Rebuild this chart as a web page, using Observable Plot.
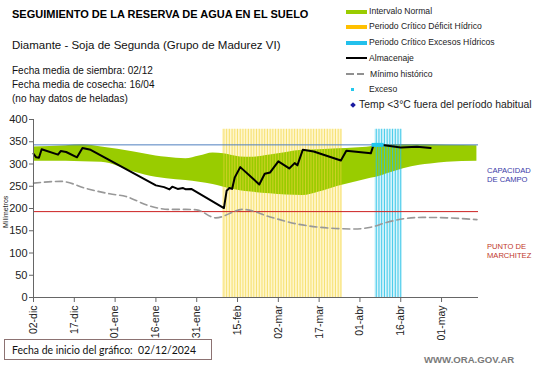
<!DOCTYPE html>
<html><head><meta charset="utf-8">
<script src="https://cdn.jsdelivr.net/npm/d3@7"></script>
<script src="https://cdn.jsdelivr.net/npm/@observablehq/plot@0.6"></script>
<style>
body{margin:0;background:#fff;}
#wrap{position:relative;width:541px;height:368px;font-family:"Liberation Sans",Arial,sans-serif;overflow:hidden;background:#fff;}
#wrap svg{position:absolute;left:0;top:0;}
.t{position:absolute;white-space:nowrap;line-height:1;}
.sw{position:absolute;}
</style></head><body><div id="wrap"></div>
<script>
// ---- Data ----
const almFechas = ["2024-12-02","2024-12-03","2024-12-04","2024-12-05","2024-12-11","2024-12-12","2024-12-14","2024-12-18","2024-12-20","2024-12-23",
  "2025-01-16","2025-01-19","2025-01-21","2025-01-22","2025-01-24","2025-01-26","2025-01-27","2025-01-29",
  "2025-02-10","2025-02-11","2025-02-12","2025-02-13","2025-02-14","2025-02-16","2025-02-23","2025-02-25","2025-02-27",
  "2025-03-02","2025-03-06","2025-03-08","2025-03-09","2025-03-11","2025-03-15","2025-03-25","2025-03-27",
  "2025-04-05","2025-04-06","2025-04-10","2025-04-16","2025-04-22","2025-04-27"];
const almValores = [323,315,314,333,321,329,327,315,336,332,
  252,248,243,249,244,246,243,244,
  201,240,246,244,270,293,254,278,281,
  306,290,302,297,332,328,308,330,
  324,343,342,337,339,336];

const minFechas = ["2024-12-02","2024-12-12","2024-12-22","2024-12-30","2025-01-05","2025-01-13","2025-01-21","2025-01-27","2025-01-31","2025-02-07","2025-02-17","2025-02-27","2025-03-09","2025-03-17","2025-03-30","2025-04-05","2025-04-11","2025-04-17","2025-04-24","2025-05-03","2025-05-14"];
const minValores = [257,261,244,233,227,207,198,198,197,179,198,181,165,158,154,158,169,177,180,179,175];

const bandaFechas = ["2024-12-02","2024-12-14","2024-12-20","2024-12-27","2025-01-08","2025-01-16","2025-01-20","2025-01-27","2025-02-01","2025-02-06","2025-02-10","2025-02-16","2025-02-20","2025-02-27","2025-03-11","2025-03-17","2025-03-24","2025-03-30","2025-04-05","2025-04-07","2025-04-11","2025-04-23","2025-04-27","2025-05-03","2025-05-14"];
const bandaSup = [338,341,343,338,327,318,315,312,318,325,323,316,315,320,331,332,334,336,339,343,343,343,343,342,341];
const bandaInf = [306,306,305,304,282,270,267,263,259,254,248,240,237,233,229,237,250,259,268,270,278,297,300,304,306];

const excesoFechas = ["2025-04-06","2025-04-07","2025-04-08","2025-04-09"];
const excesoValores = [343,343,343,343];

const periodoDeficit = ["2025-02-10","2025-03-25"];
const periodoExcesos = ["2025-04-07","2025-04-16"];
const alturaPeriodo = 378;

const capacidadCampo = 343;
const puntoMarchitez = 193;

const ticksFechas = ["2024-12-02","2024-12-17","2025-01-01","2025-01-16","2025-01-31","2025-02-15","2025-03-02","2025-03-17","2025-04-01","2025-04-16","2025-05-01"];
const ticksY = [0,50,100,150,200,250,300,350,400];
const meses = ["ene","feb","mar","abr","may","jun","jul","ago","sep","oct","nov","dic"];

// ---- Build ----
const P = d3.utcParse("%Y-%m-%d");
const alm = almFechas.map((f,i)=>({date:P(f), v:almValores[i]}));
const minimo = minFechas.map((f,i)=>({date:P(f), v:minValores[i]}));
const banda = bandaFechas.map((f,i)=>({date:P(f), hi:bandaSup[i], lo:bandaInf[i]}));
const exceso = excesoFechas.map((f,i)=>({date:P(f), v:excesoValores[i]}));
const diasDef = d3.utcDay.range(P(periodoDeficit[0]), d3.utcDay.offset(P(periodoDeficit[1]),1));
const diasExc = d3.utcDay.range(P(periodoExcesos[0]), d3.utcDay.offset(P(periodoExcesos[1]),1));
const half = 12*3600*1000;
const xStart = P("2024-12-02");
const xEnd = new Date(Date.UTC(2025,4,14,14));

const chart = Plot.plot({
  width: 541, height: 368,
  marginTop: 119, marginBottom: 71, marginLeft: 33, marginRight: 63,
  x: {type:"utc", domain:[xStart, xEnd]},
  y: {domain:[0,400]},
  style: {fontFamily:"'Liberation Sans', Arial, sans-serif", background:"transparent", color:"#222"},
  marks: [
    Plot.rect(diasDef, {x1:d=>new Date(+d-half), x2:d=>new Date(+d+half), y1:0, y2:alturaPeriodo, fill:"#fff6c8"}),
    Plot.rect(diasExc, {x1:d=>new Date(+d-half), x2:d=>new Date(+d+half), y1:0, y2:alturaPeriodo, fill:"#d4f3fb"}),
    Plot.areaY(banda, {x:"date", y1:"lo", y2:"hi", fill:"#99cc00", curve:"monotone-x"}),
    Plot.ruleX(diasDef, {x:d=>d, y1:0, y2:alturaPeriodo, stroke:"#f0d43c", strokeWidth:0.9, strokeOpacity:0.7}),
    Plot.ruleX(diasExc, {x:d=>d, y1:0, y2:alturaPeriodo, stroke:"#28c2e6", strokeWidth:1, strokeOpacity:0.85}),
    Plot.ruleY([capacidadCampo], {stroke:"#4f7fbf", strokeWidth:1}),
    Plot.ruleY([puntoMarchitez], {stroke:"#cc2020", strokeWidth:1}),
    Plot.line(minimo, {x:"date", y:"v", stroke:"#989898", strokeWidth:1.6, strokeDasharray:"7,4", curve:"monotone-x"}),
    Plot.line(alm, {x:"date", y:"v", stroke:"#000", strokeWidth:2}),
    Plot.dot(exceso, {x:"date", y:"v", fill:"#22c8ee", r:2.2, symbol:"square"}),
    Plot.ruleY([0], {stroke:"#666"}),
    Plot.ruleX([xStart], {stroke:"#666"}),
    Plot.axisY({ticks:ticksY, tickSize:4, tickPadding:2, fontSize:11, stroke:"#666", label:null}),
    Plot.axisX({ticks:ticksFechas.map(P), tickSize:5, tickPadding:3, tickRotate:-90, fontSize:10.5, stroke:"#666", label:null,
      tickFormat:d=>d3.utcFormat("%d")(d)+"-"+meses[d.getUTCMonth()]})
  ]
});
const wrap = document.getElementById("wrap");
wrap.appendChild(chart);

function txt(s, x, y, css){const d=document.createElement("div");d.className="t";d.textContent=s;d.style.left=x+"px";d.style.top=y+"px";Object.assign(d.style,css||{});wrap.appendChild(d);return d;}
function sw(x,y,w,h,css){const d=document.createElement("div");d.className="sw";d.style.left=x+"px";d.style.top=y+"px";d.style.width=w+"px";d.style.height=h+"px";Object.assign(d.style,css||{});wrap.appendChild(d);return d;}

txt("SEGUIMIENTO DE LA RESERVA DE AGUA  EN EL SUELO", 12, 9, {fontSize:"11px", fontWeight:"bold", color:"#000"});
txt("Diamante - Soja de Segunda (Grupo de Madurez VI)", 12, 40, {fontSize:"11.5px", color:"#111"});
const cond = {fontSize:"11px", color:"#111", transform:"scaleX(0.91)", transformOrigin:"0 0"};
txt("Fecha media de siembra: 02/12", 12, 65, cond);
txt("Fecha media de cosecha: 16/04", 12, 79, cond);
txt("(no hay  datos de heladas)", 12, 93, cond);

// Legend
const lx = 346, tx = 369, lf = {fontSize:"8.6px", color:"#222"};
const rows = [11.7, 26.7, 42.7, 58.3, 74, 89.3, 105.3];
sw(lx, rows[0]-2, 21, 4, {background:"#99cc00"}); txt("Intervalo Normal", tx, rows[0]-4.5, lf);
sw(lx, rows[1]-2, 21, 4, {background:"#ffc000"}); txt("Periodo Crítico Déficit Hídrico", tx, rows[1]-4.5, lf);
sw(lx, rows[2]-2, 21, 4, {background:"#22c0ec"}); txt("Periodo Crítico Excesos Hídricos", tx, rows[2]-4.5, lf);
sw(lx, rows[3]-1, 21, 2, {background:"#000"}); txt("Almacenaje", tx, rows[3]-4.5, lf);
sw(lx, rows[4]-0.8, 8, 1.6, {background:"#909090"}); sw(lx+11, rows[4]-0.8, 7, 1.6, {background:"#909090"}); txt("Mínimo histórico", tx+1, rows[4]-4.5, lf);
sw(lx+5, rows[5]-1.5, 3, 3, {background:"#22c8ee"}); txt("Exceso", tx, rows[5]-4.5, lf);
sw(lx+5, rows[6]-2, 4, 4, {background:"#1a1aa0", transform:"rotate(45deg)"}); txt("Temp <3°C fuera del período habitual", 359, rows[6]-5.5, {fontSize:"10.4px", color:"#222"});

// Right labels
const cc = {fontSize:"7.6px", color:"#3a3aa8"};
txt("CAPACIDAD", 487, 166.5, cc); txt("DE  CAMPO", 487, 175.5, cc);
const pm = {fontSize:"7.6px", color:"#c0392b"};
txt("PUNTO   DE", 487, 242.5, pm); txt("MARCHITEZ", 487, 251.5, pm);

// y label
txt("Milímetros", 2, 228, {fontSize:"7px", color:"#222", transform:"rotate(-90deg)", transformOrigin:"0 0"});

// footer
sw(4, 339, 208, 21, {border:"1px solid #8c7272", boxSizing:"border-box"});
txt("Fecha de inicio del gráfico:  02/12/2024", 12, 344, {fontSize:"12px", fontFamily:"Lato, 'Open Sans', sans-serif", color:"#111", whiteSpace:"pre", transform:"scaleX(0.87)", transformOrigin:"0 0"});
txt("WWW.ORA.GOV.AR", 424, 355, {fontSize:"9.6px", fontWeight:"bold", color:"#7a7a7a"});
</script></body></html>
